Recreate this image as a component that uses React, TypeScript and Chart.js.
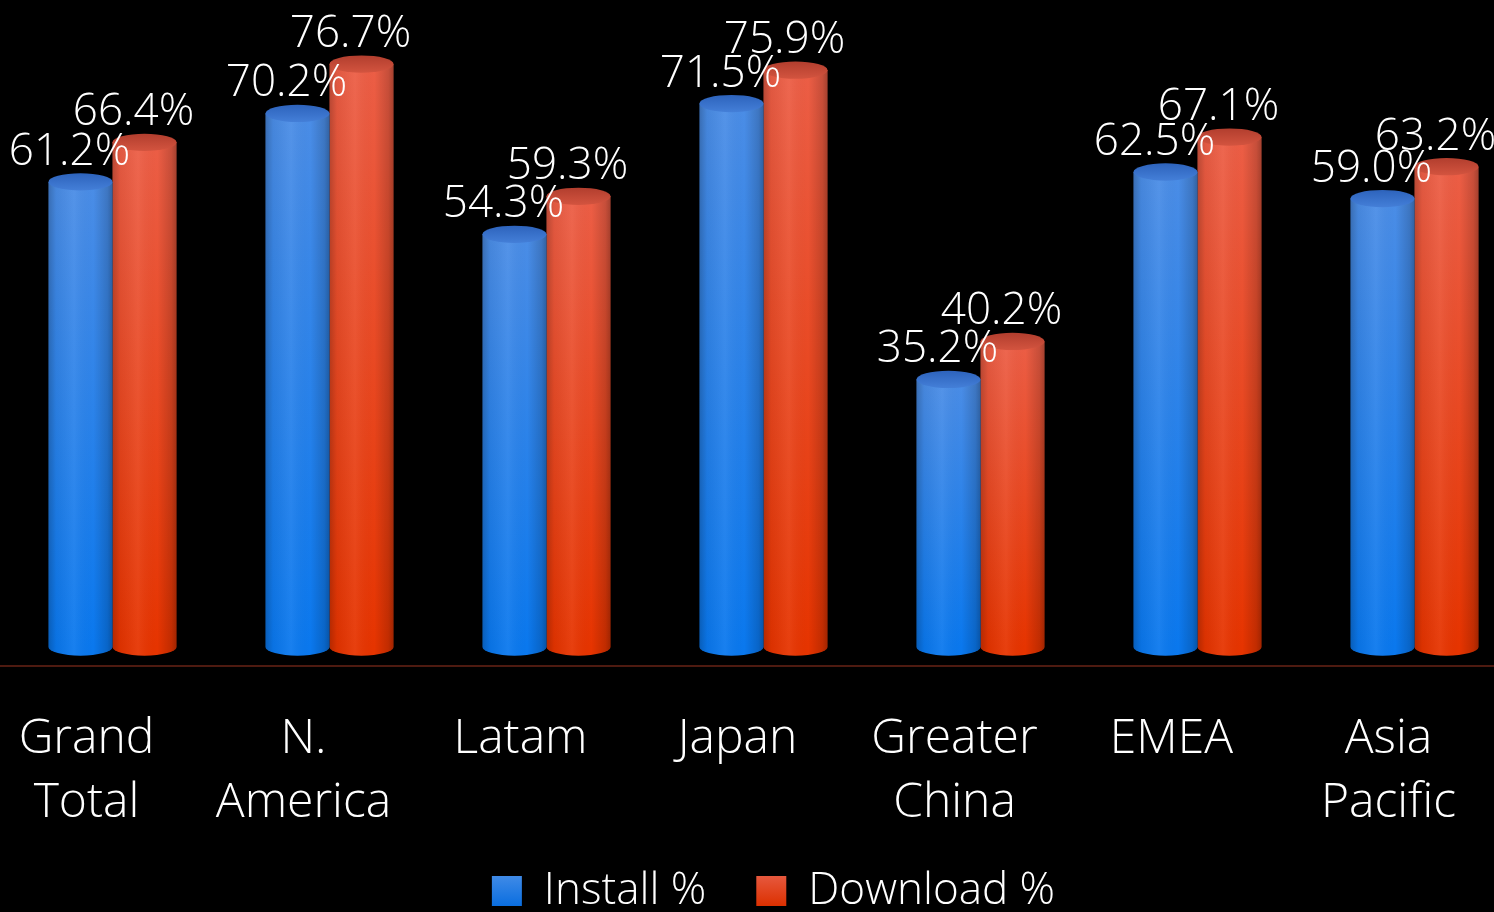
import React, { useEffect, useRef } from "react";
import { Chart, registerables } from "chart.js";

Chart.register(...registerables);

const categories: (string | string[])[] = [
  ["Grand", "Total"],
  ["N.", "America"],
  "Latam",
  "Japan",
  ["Greater", "China"],
  "EMEA",
  ["Asia", "Pacific"],
];
const installPct = [61.2, 70.2, 54.3, 71.5, 35.2, 62.5, 59.0];
const downloadPct = [66.4, 76.7, 59.3, 75.9, 40.2, 67.1, 63.2];
const seriesNames = ["Install %", "Download %"];

const FONT = "'Open Sans', 'Segoe UI', sans-serif";

type Shade = { top: string; bottom: string; capBack: string; capFront: string; legendTop: string; legendBottom: string };
const shades: Shade[] = [
  { top: "#4b8de6", bottom: "#0a78ee", capBack: "#2d63bc", capFront: "#447fd8", legendTop: "#4a90e8", legendBottom: "#0a6ee0" },
  { top: "#ec5e46", bottom: "#e63400", capBack: "#b23e2e", capFront: "#d3543f", legendTop: "#e8604a", legendBottom: "#dc3000" },
];

const cylinderPlugin = {
  id: "cylinders",
  afterLayout(chart: any) {
    const lg = chart.legend;
    if (lg) {
      const h = lg.bottom - lg.top;
      lg.top = chart.chartArea.bottom + 172;
      lg.bottom = lg.top + h;
      lg.left += 10;
      lg.right += 10;
    }
  },
  beforeDatasetDraw(chart: any, args: any) {
    const ctx: CanvasRenderingContext2D = chart.ctx;
    const meta = args.meta;
    const shade = shades[args.index] || shades[0];
    meta.data.forEach((el: any) => {
      const { x, y, base, width } = el.getProps(["x", "y", "base", "width"], true);
      const left = x - width / 2;
      const right = x + width / 2;
      const rx = width / 2;
      const ry = width * 0.135;
      ctx.save();
      ctx.beginPath();
      ctx.moveTo(left, y);
      ctx.lineTo(left, base);
      ctx.ellipse(x, base, rx, ry, 0, Math.PI, 0, true);
      ctx.lineTo(right, y);
      ctx.closePath();
      const vg = ctx.createLinearGradient(0, y, 0, base);
      vg.addColorStop(0, shade.top);
      vg.addColorStop(1, shade.bottom);
      ctx.fillStyle = vg;
      ctx.fill();
      const hg = ctx.createLinearGradient(left, 0, right, 0);
      hg.addColorStop(0, "rgba(0,0,0,0.22)");
      hg.addColorStop(0.12, "rgba(0,0,0,0.05)");
      hg.addColorStop(0.4, "rgba(255,255,255,0.06)");
      hg.addColorStop(0.7, "rgba(0,0,0,0.0)");
      hg.addColorStop(0.92, "rgba(0,0,0,0.16)");
      hg.addColorStop(1, "rgba(0,0,0,0.3)");
      ctx.fillStyle = hg;
      ctx.fill();
      ctx.beginPath();
      ctx.ellipse(x, y, rx, ry, 0, 0, Math.PI * 2);
      const cg = ctx.createLinearGradient(0, y - ry, 0, y + ry);
      cg.addColorStop(0, shade.capBack);
      cg.addColorStop(1, shade.capFront);
      ctx.fillStyle = cg;
      ctx.fill();
      ctx.restore();
    });
    return false;
  },
  afterDatasetsDraw(chart: any) {
    const ctx: CanvasRenderingContext2D = chart.ctx;
    ctx.save();
    ctx.font = `300 44px ${FONT}`;
    ctx.fillStyle = "#ffffff";
    ctx.textAlign = "center";
    ctx.textBaseline = "alphabetic";
    chart.data.datasets.forEach((ds: any, di: number) => {
      const meta = chart.getDatasetMeta(di);
      meta.data.forEach((el: any, i: number) => {
        const { x, y } = el.getProps(["x", "y"], true);
        ctx.fillText(`${Number(ds.data[i]).toFixed(1)}%`, x - 11, y - 17);
      });
    });
    ctx.restore();
  },
  beforeDraw(chart: any) {
    const ctx: CanvasRenderingContext2D = chart.ctx;
    const { chartArea } = chart;
    ctx.save();
    ctx.fillStyle = "#000000";
    ctx.fillRect(0, 0, chart.width, chart.height);
    ctx.strokeStyle = "#4e1a10";
    ctx.lineWidth = 2;
    ctx.beginPath();
    ctx.moveTo(0, chartArea.bottom + 19);
    ctx.lineTo(chart.width, chartArea.bottom + 19);
    ctx.stroke();
    ctx.restore();
  },
};

export default function App() {
  const ref = useRef<HTMLCanvasElement | null>(null);
  useEffect(() => {
    document.body.style.background = "#000";
    const canvas = ref.current!;
    const ctx2 = canvas.getContext("2d")!;
    const legendFill = (s: Shade) => {
      const g = ctx2.createLinearGradient(0, 870, 0, 906);
      g.addColorStop(0, s.legendTop);
      g.addColorStop(1, s.legendBottom);
      return g;
    };
    const chart = new Chart(canvas, {
      type: "bar",
      data: {
        labels: categories,
        datasets: [
          { label: seriesNames[0], data: installPct, backgroundColor: legendFill(shades[0]) as any, borderWidth: 0 },
          { label: seriesNames[1], data: downloadPct, backgroundColor: legendFill(shades[1]) as any, borderWidth: 0 },
        ],
      },
      options: {
        responsive: false,
        animation: false,
        devicePixelRatio: 1,
        categoryPercentage: 0.59,
        barPercentage: 1,
        layout: { padding: { left: 4, right: 7, top: 39, bottom: 0 } },
        plugins: {
          tooltip: { enabled: false },
          legend: {
            position: "bottom",
            labels: {
              color: "#ffffff",
              font: { family: FONT, size: 44, weight: 300 as any },
              boxWidth: 30,
              boxHeight: 30,
              padding: 50,
            },
          },
        },
        scales: {
          x: {
            grid: { display: false, drawTicks: false },
            border: { display: false },
            afterFit: (scale: any) => {
              scale.height = 200;
              scale.paddingLeft = 0;
              scale.paddingRight = 0;
            },
            ticks: {
              color: "#ffffff",
              font: { family: FONT, size: 48, weight: 300 as any, lineHeight: "64px" },
              padding: 60,
              labelOffset: -26,
              maxRotation: 0,
              autoSkip: false,
            },
          },
          y: {
            display: false,
            min: 0,
            max: 80,
            grid: { display: false },
          },
        },
      },
      plugins: [cylinderPlugin],
    });
    return () => chart.destroy();
  }, []);
  return (
    <div
      style={{
        position: "fixed",
        left: 0,
        top: 0,
        width: 1494,
        height: 912,
        overflow: "hidden",
        background: "#000",
      }}
    >
      <canvas ref={ref} width={1530} height={951} style={{ display: "block" }} />
    </div>
  );
}
